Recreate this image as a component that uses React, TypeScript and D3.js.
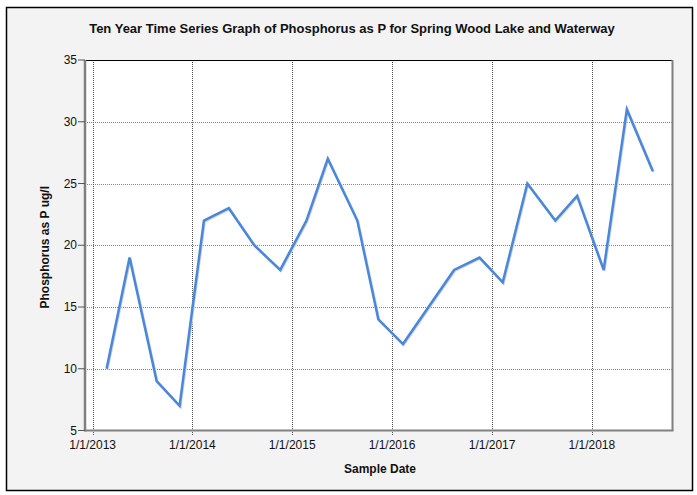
import React from "react";
import * as d3 from "d3";

const sampleDates = [
  "2013-02-21", "2013-05-16", "2013-08-23", "2013-11-15",
  "2014-02-12", "2014-05-14", "2014-08-15", "2014-11-18",
  "2015-02-22", "2015-05-11", "2015-08-27", "2015-11-12",
  "2016-02-10", "2016-08-15", "2016-11-16",
  "2017-02-09", "2017-05-10", "2017-08-20", "2017-11-08",
  "2018-02-13", "2018-05-09", "2018-08-12",
];
const phosphorus = [
  10, 19, 9, 7,
  22, 23, 20, 18,
  22, 27, 22, 14,
  12, 18, 19,
  17, 25, 22, 24,
  18, 31, 26,
];
const yTicks = [5, 10, 15, 20, 25, 30, 35];
const xTickYears = [2013, 2014, 2015, 2016, 2017, 2018];

const W = 697;
const H = 495;
const left = 85;
const right = 672.5;
const top = 60;
const bottom = 430.5;

export default function App() {
  const parse = d3.utcParse("%Y-%m-%d");
  const data = sampleDates.map((d, i) => ({ date: parse(d) as Date, v: phosphorus[i] }));
  const x = d3
    .scaleUtc()
    .domain([new Date(Date.UTC(2012, 11, 4)), new Date(Date.UTC(2018, 9, 23))])
    .range([left, right]);
  const y = d3.scaleLinear().domain([5, 35]).range([bottom, top]);
  const line = d3
    .line<{ date: Date; v: number }>()
    .x((d) => x(d.date))
    .y((d) => y(d.v));
  const xTicks = xTickYears.map((yr) => new Date(Date.UTC(yr, 0, 1)));
  const font = "Arial, 'Liberation Sans', sans-serif";

  return (
    <svg
      width={W}
      height={H}
      style={{ position: "absolute", left: 0, top: 0, display: "block" }}
      fontFamily={font}
    >
      <rect x={0} y={0} width={W} height={H} fill="#ffffff" />
      <rect x={6.5} y={7.5} width={686} height={483} fill="#f3f3f3" stroke="#000" strokeWidth={1.5} />
      <text x={352} y={33} textAnchor="middle" fontSize={13} fontWeight="bold" fill="#111">
        Ten Year Time Series Graph of Phosphorus as P for Spring Wood Lake and Waterway
      </text>
      <rect x={left} y={top} width={right - left} height={bottom - top} fill="#fff" />
      {yTicks.slice(1, -1).map((t) => (
        <line
          key={"hg" + t}
          x1={left}
          x2={right}
          y1={Math.round(y(t)) + 0.5}
          y2={Math.round(y(t)) + 0.5}
          stroke="#8a8a8a"
          strokeDasharray="1,1"
        />
      ))}
      {xTicks.map((t, i) => (
        <line
          key={"vg" + i}
          x1={Math.round(x(t)) + 0.5}
          x2={Math.round(x(t)) + 0.5}
          y1={top}
          y2={bottom + 5}
          stroke="#555"
          strokeDasharray="1,1"
        />
      ))}
      {/* frame */}
      <line x1={left} x2={right} y1={top + 0.5} y2={top + 0.5} stroke="#000" strokeWidth={1} />
      <line x1={right} x2={right} y1={top} y2={bottom} stroke="#808080" strokeWidth={2} />
      <line x1={left} x2={right + 1} y1={bottom} y2={bottom} stroke="#808080" strokeWidth={2} />
      <line x1={left} x2={left} y1={top} y2={bottom + 1} stroke="#808080" strokeWidth={2.5} />
      {yTicks.map((t) => (
        <g key={"yt" + t}>
          <line x1={left - 7} x2={left} y1={y(t)} y2={y(t)} stroke="#555" strokeWidth={1} />
          <text x={left - 8} y={y(t) + 4} textAnchor="end" fontSize={12} fill="#111">
            {t}
          </text>
        </g>
      ))}
      {xTicks.map((t, i) => (
        <text key={"xt" + i} x={x(t)} y={449} textAnchor="middle" fontSize={12} fill="#111">
          {`1/1/${xTickYears[i]}`}
        </text>
      ))}
      <path
        d={line(data) || ""}
        fill="none"
        stroke="#c9d3e0"
        strokeWidth={2.5}
        transform="translate(0.8,0.8)"
        strokeLinejoin="miter"
      />
      <path d={line(data) || ""} fill="none" stroke="#4b87d9" strokeWidth={2.5} strokeLinejoin="miter" />
      <text x={380} y={473} textAnchor="middle" fontSize={12} fontWeight="bold" fill="#111">
        Sample Date
      </text>
      <text
        transform={`translate(49,${(top + bottom) / 2 + 2}) rotate(-90)`}
        textAnchor="middle"
        fontSize={12}
        fontWeight="bold"
        fill="#111"
      >
        Phosphorus as P ug/l
      </text>
    </svg>
  );
}
